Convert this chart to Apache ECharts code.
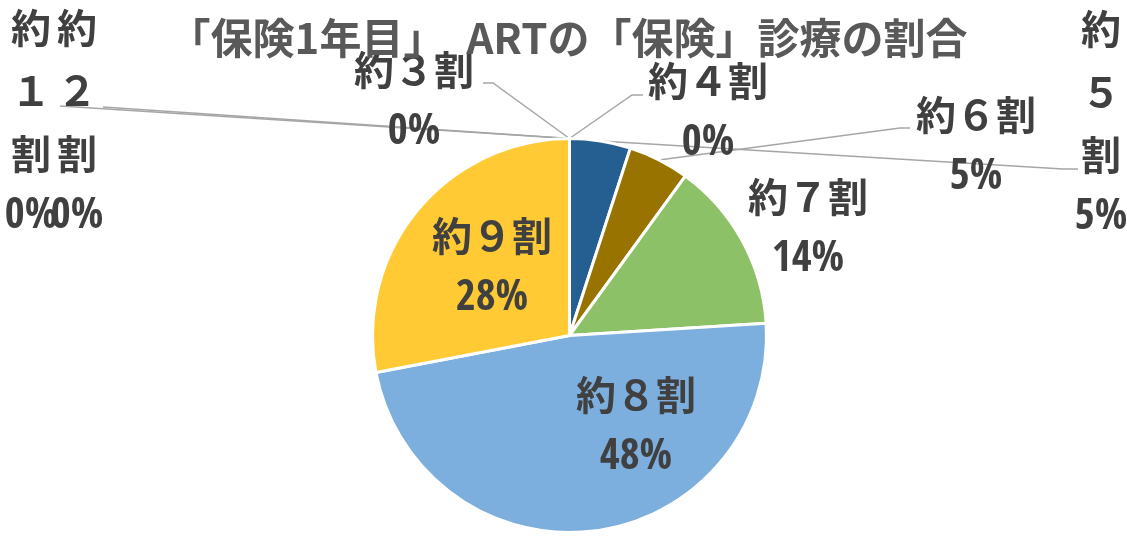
<!DOCTYPE html>
<html>
<head>
<meta charset="utf-8">
<script src="https://cdn.jsdelivr.net/npm/echarts@6/dist/echarts.min.js"></script>
<style>
  html, body { margin: 0; padding: 0; background: #ffffff; }
  #chart { width: 1127px; height: 536px; }
</style>
</head>
<body>
<div id="chart"></div>
<script>
// Share of insured ART treatment, first insured year
const chartTitle = '「保険1年目」　ARTの「保険」診療の割合';
const categories = ['約１割', '約２割', '約３割', '約４割', '約５割', '約６割', '約７割', '約８割', '約９割'];
const shares = [0, 0, 0, 0, 5, 5, 14, 48, 28];

// Slice colours
const sliceColors = ['#5B9BD5', '#ED7D31', '#A5A5A5', '#FFC000', '#255E91', '#997300', '#8CC168', '#7CAFDD', '#FFCA33'];

// Label placement (centre of each label block) and the bend points of its leader line
const labelSpots = [
  { x: 31,   y: 122, narrow: true,  line: [[60, 106]] },
  { x: 77,   y: 122, narrow: true,  line: [[103, 107]] },
  { x: 414,  y: 101, line: [[493, 83], [483, 83]] },
  { x: 708,  y: 112, line: [[632, 95], [643, 95]] },
  { x: 1101, y: 123, narrow: true,  line: [[1063, 169], [1078, 169]] },
  { x: 976,  y: 146, line: [[900, 128], [910, 128]] },
  { x: 808,  y: 228 },
  { x: 636,  y: 426 },
  { x: 492,  y: 267 }
];

const FONT = '"Noto Sans CJK JP", "Noto Sans CJK SC", sans-serif';
const PCT_FONT = '"Open Sans Condensed", "Noto Sans CJK JP", sans-serif';

const pctText = p => '{p|' + p.value + '%}';
const wideText = p => '{n|' + p.name + '}\n' + pctText(p);
// Narrow labels stack one character per line, with the percentage last
const stackedText = p => p.name.split('').map(c => '{n|' + c + '}').join('\n') + '\n' + pctText(p);

const seriesData = categories.map((name, i) => {
  const spot = labelSpots[i];
  const item = { name: name, value: shares[i], itemStyle: { color: sliceColors[i] } };
  if (spot.narrow) {
    item.label = { formatter: stackedText };
  }
  if (!spot.line) {
    item.labelLine = { show: false };
  }
  return item;
});

const chart = echarts.init(document.getElementById('chart'), null, { renderer: 'canvas' });

chart.setOption({
  backgroundColor: '#ffffff',
  animation: false,
  title: {
    text: chartTitle,
    left: 563,
    top: 12,
    textAlign: 'center',
    textStyle: {
      fontFamily: FONT,
      fontSize: 42,
      fontWeight: 'bold',
      color: '#595959'
    }
  },
  series: [{
    type: 'pie',
    center: [569.5, 335.5],
    radius: 197,
    startAngle: 90,
    clockwise: true,
    avoidLabelOverlap: false,
    minAngle: 0,
    itemStyle: { borderColor: '#ffffff', borderWidth: 3 },
    label: {
      show: true,
      position: 'outside',
      formatter: wideText,
      color: '#404040',
      lineHeight: 63,
      align: 'center',
      rich: {
        n: { fontFamily: FONT, fontSize: 40, fontWeight: 'bold', color: '#404040', lineHeight: 63 },
        p: { fontFamily: PCT_FONT, fontSize: 43, fontWeight: 'bold', color: '#404040', lineHeight: 63 }
      }
    },
    labelLine: {
      show: true,
      lineStyle: { color: '#A6A6A6', width: 1.5 }
    },
    labelLayout: function (params) {
      const spot = labelSpots[params.dataIndex];
      const out = { x: spot.x, y: spot.y, align: 'center', verticalAlign: 'middle' };
      if (spot.line && params.labelLinePoints) {
        const anchor = params.labelLinePoints[0];
        out.labelLinePoints = [anchor].concat(spot.line);
      }
      return out;
    },
    data: seriesData
  }]
});
</script>
</body>
</html>
